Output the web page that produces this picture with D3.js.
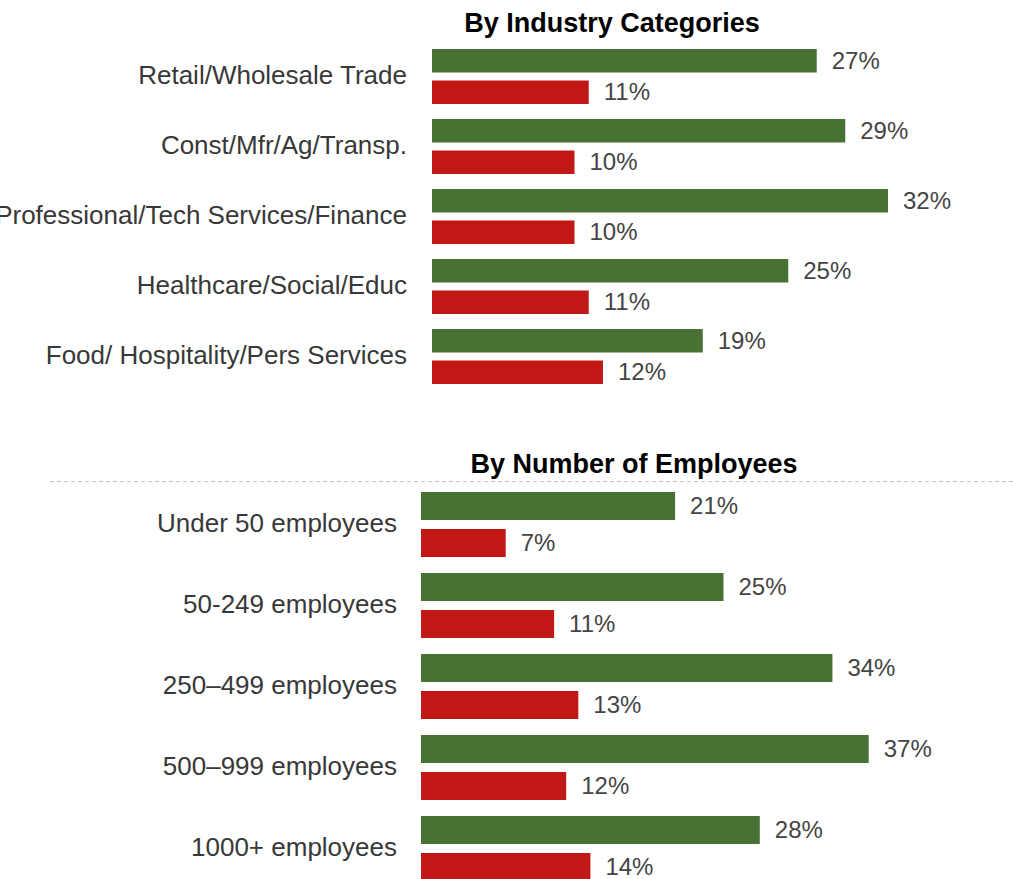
<!DOCTYPE html>
<html>
<head>
<meta charset="utf-8">
<script src="https://cdn.jsdelivr.net/npm/d3@7"></script>
<style>
  body { margin: 0; background: #fff; }
  svg { display: block; font-family: Arial, "Liberation Sans", Helvetica, sans-serif; }
</style>
</head>
<body>
<svg id="svg" width="1013" height="879"></svg>
<script>
var industryCats = ["Retail/Wholesale Trade", "Const/Mfr/Ag/Transp.", "Professional/Tech Services/Finance",
                    "Healthcare/Social/Educ", "Food/ Hospitality/Pers Services"];
var industryGreen = [27, 29, 32, 25, 19];
var industryRed = [11, 10, 10, 11, 12];

var employeeCats = ["Under 50 employees", "50-249 employees", "250\u2013499 employees",
                    "500\u2013999 employees", "1000+ employees"];
var employeeGreen = [21, 25, 34, 37, 28];
var employeeRed = [7, 11, 13, 12, 14];

var GREEN = "#477233";
var RED = "#c11715";

var svg;

document.addEventListener('DOMContentLoaded', function() {
  svg = d3.select('#svg');
  svg.append('rect').attr('width', 1013).attr('height', 879).attr('fill', '#fff');

  // top panel
  drawPanel({
    title: "By Industry Categories", titleX: 612, titleY: 32,
    cats: industryCats, green: industryGreen, red: industryRed,
    x0: 432, pxPerPct: 14.25, labelX: 407,
    y0: 49, step: 70, groupH: 55, barGap: 8
  });

  // separator
  svg.append('line')
    .attr('x1', 50).attr('x2', 1013)
    .attr('y1', 481.5).attr('y2', 481.5)
    .attr('stroke', '#c4c4c4')
    .attr('stroke-width', 1)
    .attr('stroke-dasharray', '4,3');

  // bottom panel
  drawPanel({
    title: "By Number of Employees", titleX: 634, titleY: 473,
    cats: employeeCats, green: employeeGreen, red: employeeRed,
    x0: 421, pxPerPct: 12.1, labelX: 397,
    y0: 492, step: 81, groupH: 65, barGap: 9
  });
});

function drawPanel(o) {
  var g = svg.append('g');

  var x = d3.scaleLinear().domain([0, 40]).range([o.x0, o.x0 + 40 * o.pxPerPct]);

  var n = o.cats.length;
  var pad = (o.step - o.groupH) / o.step;
  var y = d3.scaleBand()
    .domain(o.cats)
    .range([o.y0, o.y0 + (n - 1) * o.step + o.groupH])
    .paddingInner(pad)
    .paddingOuter(0);

  var subStep = (o.groupH + o.barGap) / 2;
  var sub = d3.scaleBand()
    .domain(['green', 'red'])
    .range([0, o.groupH])
    .paddingInner(o.barGap / subStep)
    .paddingOuter(0);

  var rows = o.cats.map(function(c, i) {
    return { cat: c, green: o.green[i], red: o.red[i] };
  });

  g.append('text')
    .attr('x', o.titleX)
    .attr('y', o.titleY)
    .attr('text-anchor', 'middle')
    .style('font-size', '27px')
    .style('font-weight', 'bold')
    .style('fill', '#000')
    .text(o.title);

  var row = g.selectAll('g.row')
    .data(rows)
    .enter().append('g')
    .attr('class', 'row')
    .attr('transform', function(d) { return 'translate(0,' + y(d.cat) + ')'; });

  row.append('text')
    .attr('x', o.labelX)
    .attr('y', y.bandwidth() / 2)
    .attr('dy', '0.3em')
    .attr('text-anchor', 'end')
    .style('font-size', '26px')
    .style('fill', '#383838')
    .text(function(d) { return d.cat; });

  ['green', 'red'].forEach(function(key) {
    row.append('rect')
      .attr('x', x(0))
      .attr('y', sub(key))
      .attr('width', function(d) { return x(d[key]) - x(0); })
      .attr('height', sub.bandwidth())
      .attr('fill', key === 'green' ? GREEN : RED);

    row.append('text')
      .attr('x', function(d) { return x(d[key]) + 15; })
      .attr('y', sub(key) + sub.bandwidth() / 2)
      .attr('dy', '0.33em')
      .style('font-size', '24px')
      .style('fill', '#444')
      .text(function(d) { return d[key] + '%'; });
  });
}
</script>
</body>
</html>
